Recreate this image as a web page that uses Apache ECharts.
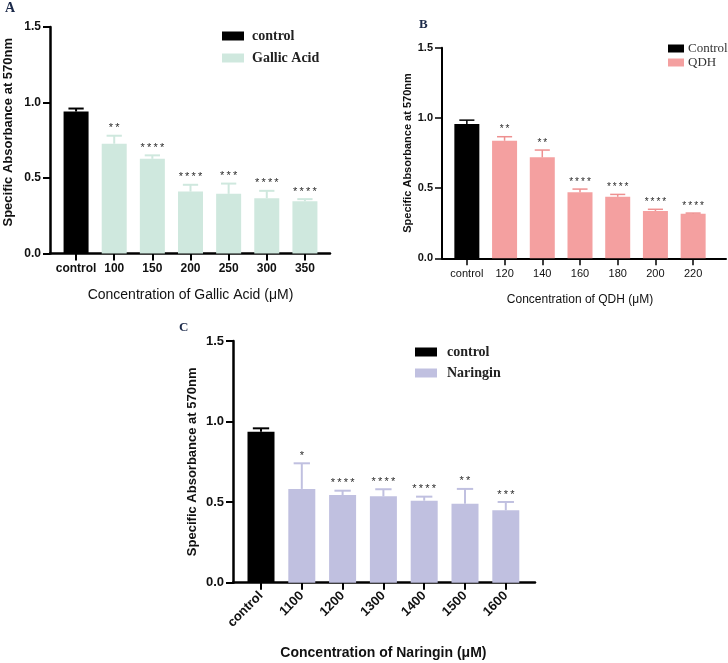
<!DOCTYPE html>
<html>
<head>
<meta charset="utf-8">
<script src="https://cdn.jsdelivr.net/npm/echarts@6/dist/echarts.min.js"></script>
<style>
  html, body { margin: 0; padding: 0; background: #fff; }
  #main { width: 728px; height: 663px; }
</style>
</head>
<body>
<div id="main"></div>
<script>
// panel A - gallic acid
var catsA = ["control", "100", "150", "200", "250", "300", "350"];
var meanA = [0.94, 0.727, 0.627, 0.41, 0.395, 0.366, 0.346];
var sdA = [0.02, 0.053, 0.023, 0.045, 0.068, 0.049, 0.014];
var sigA = ["", "**", "****", "****", "***", "****", "****"];

// panel B - QDH
var catsB = ["control", "120", "140", "160", "180", "200", "220"];
var meanB = [0.956, 0.837, 0.719, 0.47, 0.438, 0.337, 0.318];
var sdB = [0.028, 0.029, 0.052, 0.023, 0.017, 0.012, 0.004];
var sigB = ["", "**", "**", "****", "****", "****", "****"];

// panel C - naringin
var catsC = ["control", "1100", "1200", "1300", "1400", "1500", "1600"];
var meanC = [0.937, 0.582, 0.544, 0.536, 0.509, 0.49, 0.449];
var sdC = [0.021, 0.159, 0.027, 0.044, 0.025, 0.092, 0.052];
var sigC = ["", "*", "****", "****", "****", "**", "***"];

var yTicks = [0, 0.5, 1.0, 1.5];

var SANS = "Liberation Sans, Arial, sans-serif";
var SERIF = "Liberation Serif, Times New Roman, serif";

var grids = [], xAxes = [], yAxes = [], series = [];

function errRender(color, sigs, lw, font) {
  return function (params, api) {
    var i = api.value(0), m = api.value(1), sd = api.value(2);
    var base = api.coord([i, m]);
    var top = api.coord([i, m + sd]);
    var half = api.size([1, 0])[0] * 0.2;
    var c = i === 0 ? "#000" : color;
    var kids = [
      { type: "line", shape: { x1: base[0], y1: base[1], x2: top[0], y2: top[1] }, style: { stroke: c, lineWidth: lw } },
      { type: "line", shape: { x1: top[0] - half, y1: top[1], x2: top[0] + half, y2: top[1] }, style: { stroke: c, lineWidth: lw } }
    ];
    var s = sigs[params.dataIndex];
    if (s) {
      kids.push({
        type: "text",
        style: {
          text: s.split("").join("\u2009"),
          x: top[0], y: top[1] - 2,
          align: "center", verticalAlign: "bottom",
          font: font, fill: "#2a2a2a"
        }
      });
    }
    return { type: "group", children: kids };
  };
}

function addPanel(p) {
  var g = grids.length;
  // frame grid: carries the axis lines and the y scale
  grids.push({ left: p.frame[0], top: p.top, width: p.frame[1], height: p.height });
  // bar grid: categories sit inside the frame, GraphPad style
  grids.push({ left: p.bars[0], top: p.top, width: p.bars[1], height: p.height });

  xAxes.push({
    gridIndex: g, type: "value", min: 0, max: 1,
    axisLine: { show: true, onZero: false, lineStyle: { color: "#000", width: p.axisW } },
    axisTick: { show: false }, axisLabel: { show: false }, splitLine: { show: false }
  });
  xAxes.push({
    gridIndex: g + 1, type: "category", data: p.cats,
    axisLine: { show: false },
    axisTick: { show: true, alignWithLabel: true, length: 7, lineStyle: { color: "#000", width: p.axisW - 0.5 } },
    axisLabel: { color: "#111", fontFamily: SANS, fontWeight: p.labelBold, fontSize: p.labelSize, margin: p.labelMargin, rotate: p.rotate, interval: 0 },
    name: p.xName, nameLocation: "middle", nameGap: p.xNameGap,
    nameTextStyle: { color: "#111", fontFamily: SANS, fontWeight: p.xNameBold, fontSize: p.xNameSize }
  });

  yAxes.push({
    gridIndex: g, type: "value", min: yTicks[0], max: yTicks[yTicks.length - 1], interval: 0.5,
    axisLine: { show: true, onZero: false, lineStyle: { color: "#000", width: p.axisW } },
    axisTick: { show: true, length: 7, lineStyle: { color: "#000", width: p.axisW - 0.5 } },
    axisLabel: { color: "#111", fontFamily: SANS, fontWeight: "bold", fontSize: p.yLabelSize, margin: 9, formatter: function (v) { return v.toFixed(1); } },
    splitLine: { show: false },
    name: "Specific Absorbance at 570nm", nameLocation: "middle", nameRotate: 90, nameGap: p.yNameGap,
    nameTextStyle: { color: "#111", fontFamily: SANS, fontWeight: "bold", fontSize: p.yNameSize, padding: p.yNamePad }
  });
  yAxes.push({ gridIndex: g + 1, type: "value", min: 0, max: 1.5, show: false });

  series.push({
    name: p.ctrlName, type: "bar", stack: p.key, xAxisIndex: g + 1, yAxisIndex: g + 1,
    barWidth: p.barW, itemStyle: { color: "#000" },
    data: p.mean.map(function (v, i) { return i === 0 ? v : "-"; })
  });
  series.push({
    name: p.treatName, type: "bar", stack: p.key, xAxisIndex: g + 1, yAxisIndex: g + 1,
    barWidth: p.barW, itemStyle: { color: p.color },
    data: p.mean.map(function (v, i) { return i === 0 ? "-" : v; })
  });
  series.push({
    type: "custom", xAxisIndex: g + 1, yAxisIndex: g + 1, z: 5,
    renderItem: errRender(p.errColor, p.sig, p.errW, p.sigFont),
    data: p.mean.map(function (v, i) { return [i, v, p.sd[i]]; })
  });
}

addPanel({
  key: "A", cats: catsA, mean: meanA, sd: sdA, sig: sigA,
  ctrlName: "control", treatName: "Gallic Acid", color: "#cfe8de", errColor: "#cfe8de",
  frame: [50, 280], bars: [57, 267], top: 27, height: 226.5, barW: 25, axisW: 2.5, errW: 2,
  labelBold: "bold", labelSize: 12, labelMargin: 9, rotate: 0, yLabelSize: 12,
  xName: "Concentration of Gallic Acid (\u03bcM)", xNameGap: 35, xNameBold: "normal", xNameSize: 14,
  yNameGap: 35, yNameSize: 13, yNamePad: [0, 0, 0, 16], sigFont: "11px " + SANS
});

addPanel({
  key: "B", cats: catsB, mean: meanB, sd: sdB, sig: sigB,
  ctrlName: "Control", treatName: "QDH", color: "#f4a0a0", errColor: "#ee9090",
  frame: [442, 284], bars: [448, 264], top: 47.7, height: 210.6, barW: 25, axisW: 2, errW: 1.5,
  labelBold: "normal", labelSize: 11, labelMargin: 10, rotate: 0, yLabelSize: 11,
  xName: "Concentration of QDH (\u03bcM)", xNameGap: 35, xNameBold: "normal", xNameSize: 12,
  yNameGap: 29, yNameSize: 11, yNamePad: 0, sigFont: "10px " + SANS
});

addPanel({
  key: "C", cats: catsC, mean: meanC, sd: sdC, sig: sigC,
  ctrlName: "control", treatName: "Naringin", color: "#c0c0e0", errColor: "#c0c0e0",
  frame: [233, 302], bars: [240.6, 285.6], top: 341, height: 241.7, barW: 27, axisW: 2.5, errW: 2,
  labelBold: "bold", labelSize: 13, labelMargin: 11, rotate: 45, yLabelSize: 13,
  xName: "Concentration of Naringin (\u03bcM)", xNameGap: 63, xNameBold: "bold", xNameSize: 14,
  yNameGap: 34, yNameSize: 13, yNamePad: 0, sigFont: "11px " + SANS
});

var chart = echarts.init(document.getElementById("main"));
chart.setOption({
  backgroundColor: "#fff",
  animation: false,
  title: [
    { text: "A", left: 5, top: 1, padding: 0, textStyle: { fontFamily: SERIF, fontWeight: "bold", fontSize: 14, color: "#1c2a4a" } },
    { text: "B", left: 419, top: 18, padding: 0, textStyle: { fontFamily: SERIF, fontWeight: "bold", fontSize: 13, color: "#1c2a4a" } },
    { text: "C", left: 179, top: 321, padding: 0, textStyle: { fontFamily: SERIF, fontWeight: "bold", fontSize: 13, color: "#1c2a4a" } }
  ],
  legend: [
    { data: ["control", "Gallic Acid"], left: 222, top: 29, orient: "vertical", icon: "rect", selectedMode: false,
      itemWidth: 22, itemHeight: 9, itemGap: 8, padding: 0,
      textStyle: { fontFamily: SERIF, fontWeight: "bold", fontSize: 14, color: "#222", padding: [0, 0, 0, 3] } },
    { data: ["Control", "QDH"], left: 668, top: 42, orient: "vertical", icon: "rect", selectedMode: false,
      itemWidth: 16, itemHeight: 8, itemGap: 1, padding: 0,
      textStyle: { fontFamily: SERIF, fontSize: 13, color: "#333", padding: [0, 0, 0, -1] } },
    { data: ["control", "Naringin"], left: 415, top: 345, orient: "vertical", icon: "rect", selectedMode: false,
      itemWidth: 22, itemHeight: 9, itemGap: 7, padding: 0,
      textStyle: { fontFamily: SERIF, fontWeight: "bold", fontSize: 14, color: "#222", padding: [0, 0, 0, 5] } }
  ],
  grid: grids,
  xAxis: xAxes,
  yAxis: yAxes,
  series: series
});
</script>
</body>
</html>
